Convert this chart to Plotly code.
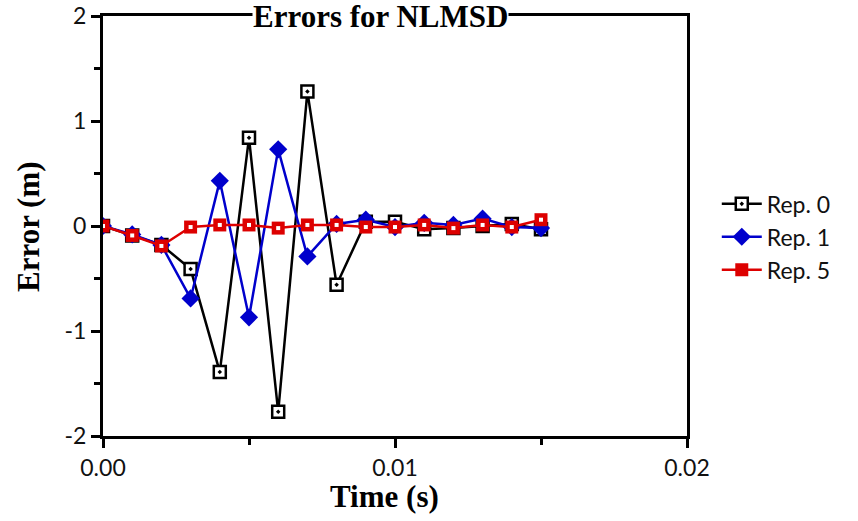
import plotly.graph_objects as go

time_s = [0.000, 0.001, 0.002, 0.003, 0.004, 0.005, 0.006, 0.007,
          0.008, 0.009, 0.010, 0.011, 0.012, 0.013, 0.014, 0.015]
rep0 = [0.00, -0.09, -0.18, -0.41, -1.39, 0.84, -1.77, 1.28,
        -0.56, 0.04, 0.04, -0.03, -0.02, 0.00, 0.02, -0.03]
rep1 = [0.00, -0.08, -0.18, -0.69, 0.43, -0.87, 0.73, -0.29,
        0.02, 0.06, -0.01, 0.03, 0.01, 0.07, -0.01, -0.02]
rep5 = [0.00, -0.09, -0.19, -0.01, 0.01, 0.01, -0.02, 0.01,
        0.01, -0.01, -0.01, 0.01, -0.02, 0.01, -0.01, 0.06]

x_ticks = [0.0, 0.01, 0.02]
x_tick_labels = ["0.00", "0.01", "0.02"]
y_ticks = [-2, -1, 0, 1, 2]
y_tick_labels = ["-2", "-1", "0", "1", "2"]

fig = go.Figure()
fig.add_trace(go.Scatter(
    x=time_s, y=rep0, name="Rep. 0", mode="lines+markers",
    line=dict(color="black", width=2.5),
    marker=dict(symbol="square-dot", size=12, color="white",
                line=dict(color="black", width=2.5)),
))
fig.add_trace(go.Scatter(
    x=time_s, y=rep1, name="Rep. 1", mode="lines+markers",
    line=dict(color="#0000cc", width=2.5),
    marker=dict(symbol="diamond", size=14, color="#0000cc",
                line=dict(color="#0000cc", width=0)),
))
fig.add_trace(go.Scatter(
    x=time_s, y=rep5, name="Rep. 5", mode="lines+markers",
    line=dict(color="#dd0000", width=2.5),
    marker=dict(symbol="square", size=13, color="#dd0000",
                line=dict(color="#dd0000", width=0)),
    legendgroup="r5",
))
fig.add_trace(go.Scatter(
    x=time_s, y=rep5, mode="markers", showlegend=False, hoverinfo="skip",
    marker=dict(symbol="square", size=4, color="white"),
    legendgroup="r5",
))

tickfont = dict(family="Lato, DejaVu Sans, sans-serif", size=23, color="#111111")
titlefont = dict(family="Liberation Serif, Times New Roman, serif", size=31, color="black")

fig.update_layout(
    width=858, height=521,
    margin=dict(l=103, r=171, t=16, b=85, autoexpand=False),
    paper_bgcolor="white", plot_bgcolor="white",
    showlegend=True,
    legend=dict(x=1.051, xanchor="left", y=0.474, yanchor="middle",
                font=tickfont, bgcolor="rgba(0,0,0,0)",
                itemwidth=40, tracegroupgap=0),
)
fig.update_xaxes(
    range=[0, 0.02], tickvals=x_ticks, ticktext=x_tick_labels, automargin=False,
    ticks="outside", ticklen=9, tickwidth=3, tickcolor="black",
    minor=dict(tickvals=[0.005, 0.015], ticks="outside", ticklen=6, tickwidth=3, tickcolor="black"),
    showline=True, linewidth=3, linecolor="black", mirror=True,
    showgrid=False, zeroline=False, tickfont=tickfont,
)
fig.update_yaxes(
    range=[-2, 2], tickvals=y_ticks, ticktext=y_tick_labels, automargin=False,
    ticks="outside", ticklen=9, tickwidth=3, tickcolor="black",
    minor=dict(tickvals=[-1.5, -0.5, 0.5, 1.5], ticks="outside", ticklen=6, tickwidth=3, tickcolor="black"),
    showline=True, linewidth=3, linecolor="black", mirror=True,
    showgrid=False, zeroline=False, tickfont=tickfont,
)
fig.add_annotation(
    text="<b>Errors for NLMSD</b>", xref="paper", yref="paper",
    x=0.476, y=1.0, xanchor="center", yanchor="middle",
    showarrow=False, font=titlefont, bgcolor="white", borderpad=0,
)
fig.add_annotation(
    text="<b>Time (s)</b>", xref="paper", yref="paper",
    x=(384 - 103) / 584, y=-(497 - 436) / 420, xanchor="center", yanchor="middle",
    showarrow=False, font=titlefont,
)
fig.add_annotation(
    text="<b>Error (m)</b>", xref="paper", yref="paper", textangle=-90,
    x=-(103 - 28) / 584, y=(436 - 226) / 420, xanchor="center", yanchor="middle",
    showarrow=False, font=titlefont,
)

fig.write_html("out.html")
